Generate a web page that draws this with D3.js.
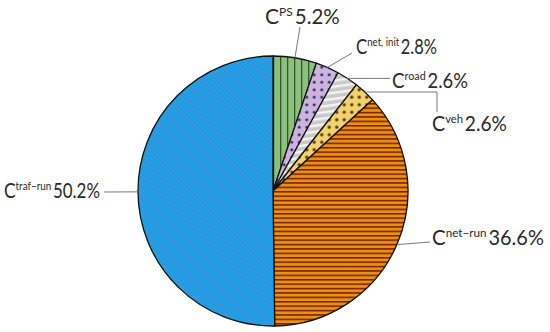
<!DOCTYPE html>
<html><head><meta charset="utf-8">
<script src="https://cdn.jsdelivr.net/npm/d3@7/dist/d3.min.js"></script>
<style>html,body{margin:0;padding:0;background:#fff;}svg{display:block;}</style>
</head><body>
<svg id="c" width="550" height="332"></svg>
<script>
const categories = ["PS", "net, init", "road", "veh", "net\u2212run", "traf\u2212run"];
const values = [5.2, 2.8, 2.6, 2.6, 36.6, 50.2];
const valueLabels = ["5.2%", "2.8%", "2.6%", "2.6%", "36.6%", "50.2%"];

const svg = d3.select("#c");
const cx = 273, cy = 191, R = 135;
const defs = svg.append("defs");

function stripes(id, bg, fg, size, w, rot, vertical){
  const p = defs.append("pattern").attr("id", id).attr("patternUnits","userSpaceOnUse")
    .attr("width", size).attr("height", size);
  if (rot) p.attr("patternTransform", `rotate(${rot})`);
  p.append("rect").attr("width", size).attr("height", size).attr("fill", bg);
  if (vertical) p.append("rect").attr("x",0).attr("y",0).attr("width", w).attr("height", size).attr("fill", fg);
  else p.append("rect").attr("x",0).attr("y",0).attr("width", size).attr("height", w).attr("fill", fg);
}
function dots(id, bg, fg, size, r){
  const p = defs.append("pattern").attr("id", id).attr("patternUnits","userSpaceOnUse")
    .attr("width", size).attr("height", size);
  p.append("rect").attr("width", size).attr("height", size).attr("fill", bg);
  p.append("circle").attr("cx", size/2).attr("cy", size/2).attr("r", r).attr("fill", fg);
}
stripes("pPS", "#8ec07d", "#2f5a2a", 7, 1.3, 0, true);
dots("pNI", "#cbb4e2", "#3b2446", 7.5, 1.5);
stripes("pRD", "#c9c9c9", "#f4f4f4", 6, 2.4, -8, false);
dots("pVH", "#f2d36b", "#5a3512", 7.5, 1.7);
stripes("pNR", "#e8920d", "#7a1c05", 4.4, 1.5, 0, false);
stripes("pTR", "#1da3e3", "#3f88dc", 3.2, 0.9, 45, false);
const fills = ["url(#pPS)","url(#pNI)","url(#pRD)","url(#pVH)","url(#pNR)","url(#pTR)"];

const pie = d3.pie().sort(null).value(d => d)(values);
const arc = d3.arc().innerRadius(0).outerRadius(R);
const g = svg.append("g").attr("transform", `translate(${cx},${cy})`);
g.selectAll("path").data(pie).join("path")
  .attr("d", arc).attr("fill", (d,i) => fills[i])
  .attr("stroke", "#111").attr("stroke-width", 1.3).attr("stroke-linejoin","round");

// leader lines from slice mid-angle on the rim
const leaderEnds = [
  [[300,27]],
  [[352,53]],
  [[390,null]],
  [[437,null],[437,112]],
  [[430,242]],
  [[104,192]]
];
pie.forEach((d,i) => {
  const a = (d.startAngle + d.endAngle)/2;
  const x0 = cx + R*Math.sin(a), y0 = cy - R*Math.cos(a);
  const pts = [[x0,y0]];
  leaderEnds[i].forEach(p => pts.push([p[0], p[1]===null ? y0 : p[1]]));
  svg.append("path").attr("d", d3.line()(pts)).attr("fill","none")
    .attr("stroke","#7a7a7a").attr("stroke-width",1);
});

const labelPos = [[265,24],[356,54],[392,88],[432,131],[432,245],[4,198]];
const labelWidth = [75, 81, 76, 75, 112, 96];
const font = "Lato, 'Noto Sans', sans-serif";
categories.forEach((c,i) => {
  const [x, y] = labelPos[i];
  const t = svg.append("text").attr("x", x).attr("y", y)
    .attr("font-family", font).attr("fill","#2b2b2b");
  t.append("tspan").attr("font-size", 21).text("C");
  t.append("tspan").attr("font-size", 12).attr("dy", -8).text(c);
  t.append("tspan").attr("font-size", 20.5).attr("dy", 8).attr("dx", 2).text(valueLabels[i]);
  const w = t.node().getBBox().width;
  if (w > labelWidth[i]) {
    const s = labelWidth[i] / w;
    t.attr("transform", `translate(${x},0) scale(${s},1) translate(${-x},0)`);
  }
});
</script>
</body></html>
